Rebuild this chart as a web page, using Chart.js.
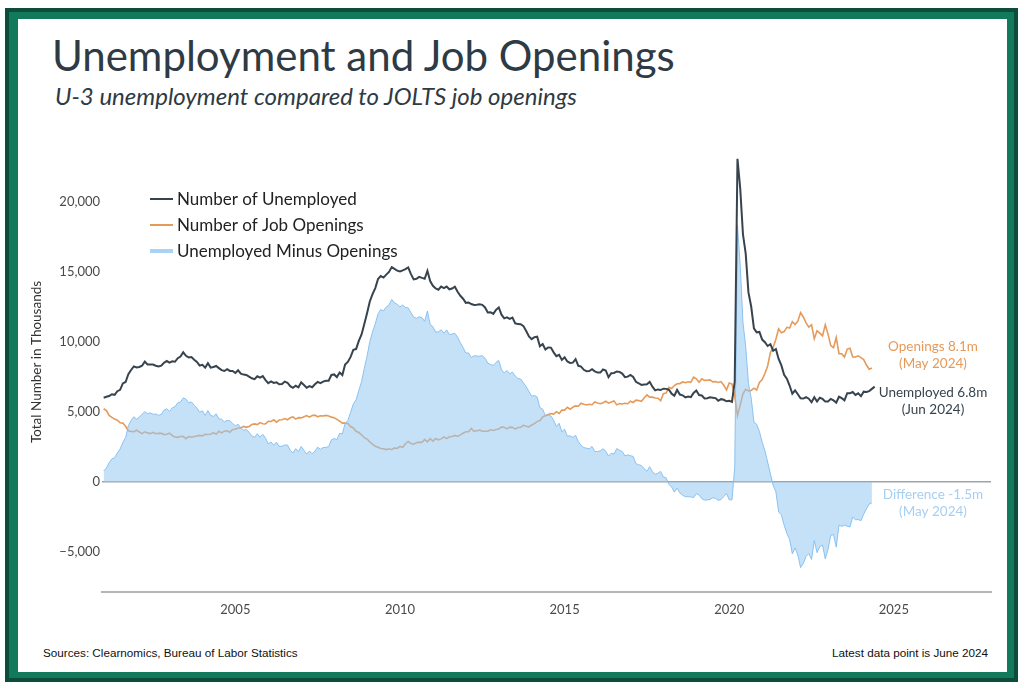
<!DOCTYPE html>
<html>
<head>
<meta charset="utf-8">
<title>Unemployment and Job Openings</title>
<script src="https://cdn.jsdelivr.net/npm/chart.js@4.4.1/dist/chart.umd.min.js"></script>
<style>
  html, body { margin: 0; padding: 0; background: #fff; }
  body { width: 1024px; height: 688px; position: relative; overflow: hidden; font-family: Lato, "Open Sans", sans-serif; }
  .frame-outer { position: absolute; left: 5px; top: 8px; width: 1013px; height: 674px; background: #0b4c3b; }
  .frame-mid { position: absolute; left: 4px; top: 4px; right: 4px; bottom: 4px; background: #13795b; }
  .frame-inner { position: absolute; left: 9px; top: 7px; right: 7px; bottom: 6px; background: #fff; }
  .title { position: absolute; left: 52px; top: 30px; font-size: 42px; line-height: 1.2; color: #2e3a44; white-space: nowrap; }
  .subtitle { position: absolute; left: 55px; top: 82px; font-size: 24px; line-height: 1.2; font-style: italic; color: #2e3a44; white-space: nowrap; }
  .foot { position: absolute; top: 647px; font-family: "Liberation Sans Narrow", "Liberation Sans", Arial, sans-serif; font-size: 11.7px; line-height: 1; color: #111; white-space: nowrap; }
  #chart { position: absolute; left: 0; top: 0; }
</style>
</head>
<body>
<div class="frame-outer"><div class="frame-mid"><div class="frame-inner"></div></div></div>
<div class="title">Unemployment and Job Openings</div>
<div class="subtitle">U-3 unemployment compared to JOLTS job openings</div>
<div class="foot" style="left:43px;">Sources: Clearnomics, Bureau of Labor Statistics</div>
<div class="foot" style="right:36px;">Latest data point is June 2024</div>
<canvas id="chart" width="1024" height="688"></canvas>
<script>
// monthly series, thousands, starting January 2001
const startYear = 2001;

// Number of unemployed, Jan 2001 .. Jun 2024
const unemployed = [
  6023, 6089, 6141, 6271, 6226, 6484, 6583, 7042, 7142, 7694, 8003, 8258,
  8182, 8215, 8304, 8599, 8399, 8393, 8390, 8304, 8251, 8307, 8520, 8640,
  8520, 8618, 8588, 8842, 8957, 9266, 9011, 8896, 8921, 8732, 8576, 8317,
  8370, 8167, 8491, 8170, 8212, 8286, 8136, 7990, 7927, 8061, 7932, 7934,
  7784, 7980, 7737, 7672, 7651, 7524, 7406, 7345, 7553, 7453, 7566, 7279,
  7064, 7184, 7072, 7120, 6980, 7001, 7175, 7091, 6847, 6727, 6872, 6762,
  7116, 6927, 6731, 6850, 6766, 6979, 7149, 7067, 7170, 7237, 7240, 7645,
  7685, 7497, 7822, 7637, 8395, 8575, 8937, 9438, 9494, 10074, 10538, 11286,
  12058, 12898, 13426, 13853, 14499, 14707, 14601, 14814, 15009, 15352, 15219, 15098,
  15046, 15113, 15202, 15325, 14849, 14474, 14512, 14648, 14579, 14516, 15081, 14348,
  14013, 13820, 13737, 13957, 13855, 13962, 13763, 13818, 13948, 13594, 13302, 13093,
  12797, 12813, 12713, 12646, 12660, 12692, 12656, 12471, 12115, 12124, 12005, 12298,
  12471, 11950, 11689, 11760, 11654, 11751, 11335, 11279, 11270, 11136, 10787, 10404,
  10202, 10349, 10380, 9702, 9859, 9460, 9608, 9599, 9262, 8990, 9090, 8717,
  8903, 8610, 8504, 8526, 8771, 8297, 8248, 8014, 7915, 7927, 8061, 7907,
  7815, 7816, 8034, 7965, 7484, 7767, 7787, 7898, 7867, 7745, 7487, 7528,
  7653, 7505, 7159, 7053, 6934, 6967, 6988, 7152, 6806, 6546, 6613, 6568,
  6665, 6652, 6592, 6309, 6163, 6574, 6246, 6192, 6042, 6104, 6060, 6360,
  6535, 6210, 6177, 5963, 5986, 6046, 6025, 5995, 5800, 5917, 5871, 5763,
  5796, 5717, 7185, 23090, 20985, 17695, 16308, 13542, 12535, 10971, 10692, 10720,
  10171, 9990, 9715, 9843, 9377, 9502, 8788, 8328, 7659, 7377, 6891, 6307,
  6539, 6270, 5986, 5960, 6055, 5951, 5695, 6050, 5752, 6019, 5935, 5743,
  5746, 5938, 5827, 5672, 6090, 5988, 5836, 6339, 6339, 6427, 6221, 6331,
  6130, 6451, 6429, 6492, 6650, 6811
];

// Number of job openings (JOLTS), Jan 2001 .. May 2024
const openings = [
  5234, 5097, 4762, 4615, 4494, 4418, 4226, 4208, 3978, 3665, 3616, 3595,
  3702, 3571, 3458, 3581, 3508, 3457, 3550, 3446, 3486, 3476, 3386, 3406,
  3484, 3318, 3208, 3190, 3250, 3259, 3094, 3245, 3200, 3250, 3291, 3329,
  3285, 3413, 3389, 3410, 3524, 3413, 3624, 3512, 3631, 3660, 3555, 3753,
  3767, 3858, 3862, 3971, 3904, 3969, 4107, 4152, 4103, 4246, 4161, 4148,
  4341, 4322, 4440, 4275, 4435, 4452, 4533, 4447, 4584, 4652, 4489, 4600,
  4578, 4660, 4745, 4633, 4746, 4778, 4660, 4730, 4710, 4760, 4720, 4633,
  4583, 4472, 4343, 4203, 4208, 4181, 3964, 3860, 3623, 3532, 3370, 3165,
  3069, 2868, 2709, 2549, 2487, 2394, 2374, 2314, 2369, 2310, 2434, 2399,
  2541, 2475, 2736, 2893, 2747, 2703, 2810, 2850, 2826, 3040, 2870, 3090,
  2918, 3108, 3010, 3080, 3220, 3096, 3232, 3252, 3327, 3254, 3362, 3484,
  3585, 3595, 3822, 3624, 3666, 3706, 3636, 3625, 3622, 3728, 3682, 3755,
  3787, 3926, 3905, 3795, 3917, 3903, 3776, 3889, 3914, 4050, 3985, 3939,
  4072, 4171, 4313, 4386, 4648, 4740, 4818, 4885, 4852, 5020, 4896, 5133,
  5133, 5340, 5201, 5336, 5440, 5412, 5631, 5553, 5502, 5555, 5520, 5723,
  5640, 5590, 5663, 5765, 5632, 5709, 5793, 5510, 5600, 5574, 5620, 5589,
  5773, 5682, 5850, 5815, 5766, 6004, 6221, 6061, 6060, 6001, 5988, 5811,
  6309, 6355, 6760, 6673, 6888, 7014, 7025, 7146, 7090, 7157, 7121, 7486,
  7374, 7130, 7365, 7257, 7267, 7296, 7152, 7171, 7110, 7171, 6906, 6579,
  7066, 6999, 6146, 4745, 5491, 6297, 6624, 6503, 6537, 6701, 6572, 7108,
  7319, 7752, 8289, 9252, 9606, 10195, 10938, 10664, 10745, 11049, 10992, 11448,
  11250, 11485, 12100, 11789, 11371, 11062, 11226, 10230, 10796, 10638, 10440, 11234,
  10563, 9745, 9590, 10320, 9165, 9165, 8920, 9497, 9553, 8925, 8925, 9012,
  8890, 8748, 8355, 8059, 8140
];

const xTicks = [2005, 2010, 2015, 2020, 2025];
const yTicks = [-5000, 0, 5000, 10000, 15000, 20000];

// unemployed minus openings, for the months both series cover
const difference = openings.map((o, i) => unemployed[i] - o);

const toPoints = arr => arr.map((v, i) => ({ x: startYear + i / 12, y: v }));

const colUnemp = '#37434d';
const colOpen = '#e69a5a';
const colDiffText = '#a6cff2';

const insideLegend = {
  id: 'insideLegend',
  afterDraw(chart) {
    const { ctx, chartArea } = chart;
    const x0 = chartArea.left + 48;
    ctx.save();
    ctx.font = '17px Lato';
    ctx.textBaseline = 'middle';
    ctx.lineCap = 'butt';
    chart.data.datasets.forEach((ds, i) => {
      const y = 199 + i * 26;
      ctx.strokeStyle = ds.legendColor;
      ctx.lineWidth = ds.legendWidth;
      ctx.beginPath();
      ctx.moveTo(x0, y);
      ctx.lineTo(x0 + 23, y);
      ctx.stroke();
      ctx.fillStyle = '#222';
      ctx.fillText(ds.label, x0 + 27, y + 1);
    });
    ctx.restore();
  }
};

const endNotes = {
  id: 'endNotes',
  afterDraw(chart) {
    const { ctx } = chart;
    const ys = chart.scales.y;
    const cx = 933;
    const notes = [
      { lines: ['Openings 8.1m', '(May 2024)'], color: colOpen, at: openings[openings.length - 1], dy: -21 },
      { lines: ['Unemployed 6.8m', '(Jun 2024)'], color: colUnemp, at: unemployed[unemployed.length - 1], dy: 6 },
      { lines: ['Difference -1.5m', '(May 2024)'], color: colDiffText, at: difference[difference.length - 1], dy: -8 }
    ];
    ctx.save();
    ctx.font = '13.5px Lato';
    ctx.textAlign = 'center';
    ctx.textBaseline = 'middle';
    notes.forEach(n => {
      const y = ys.getPixelForValue(n.at) + n.dy;
      ctx.fillStyle = n.color;
      n.lines.forEach((t, k) => ctx.fillText(t, cx, y + k * 17));
    });
    ctx.restore();
  }
};

new Chart(document.getElementById('chart'), {
  type: 'line',
  data: {
    datasets: [{
      label: 'Number of Unemployed',
      data: toPoints(unemployed),
      borderColor: colUnemp,
      borderWidth: 2,
      pointRadius: 0,
      fill: false,
      order: 1,
      legendColor: colUnemp,
      legendWidth: 2
    }, {
      label: 'Number of Job Openings',
      data: toPoints(openings),
      borderColor: colOpen,
      borderWidth: 1.6,
      pointRadius: 0,
      fill: false,
      order: 3,
      legendColor: colOpen,
      legendWidth: 2
    }, {
      label: 'Unemployed Minus Openings',
      data: toPoints(difference),
      borderColor: 'rgba(130, 188, 238, 0.9)',
      backgroundColor: 'rgba(150, 200, 242, 0.55)',
      borderWidth: 1,
      pointRadius: 0,
      fill: 'origin',
      order: 2,
      legendColor: '#a9d3f5',
      legendWidth: 4
    }]
  },
  options: {
    responsive: false,
    animation: false,
    layout: { padding: { left: 25, top: 132, right: 33, bottom: 60 } },
    plugins: {
      legend: { display: false },
      tooltip: { enabled: false }
    },
    scales: {
      x: {
        type: 'linear',
        min: 2000.95,
        max: 2027.95,
        afterFit: s => { s.height = 36; },
        afterBuildTicks: s => { s.ticks = xTicks.map(v => ({ value: v })); },
        grid: { display: false, drawTicks: false },
        border: { display: true, color: '#b5b5b5', width: 2 },
        ticks: {
          padding: 10,
          color: '#4a4a4a',
          font: { family: 'Lato', size: 13 },
          callback: v => String(v)
        }
      },
      y: {
        min: -7857,
        max: 25000,
        afterFit: s => { s.width = 77; },
        afterBuildTicks: s => { s.ticks = yTicks.map(v => ({ value: v })); },
        grid: {
          drawTicks: false,
          lineWidth: 1.5,
          color: c => (c.tick && c.tick.value === 0 ? '#9ea5aa' : 'rgba(0,0,0,0)')
        },
        border: { display: false },
        title: {
          display: true,
          text: 'Total Number in Thousands',
          color: '#333',
          font: { family: 'Lato', size: 13.5 }
        },
        ticks: {
          padding: 2,
          color: '#4a4a4a',
          font: { family: 'Lato', size: 13 },
          callback: v => v.toLocaleString('en-US').replace('-', '\u2212')
        }
      }
    }
  },
  plugins: [insideLegend, endNotes]
});
</script>
</body>
</html>
